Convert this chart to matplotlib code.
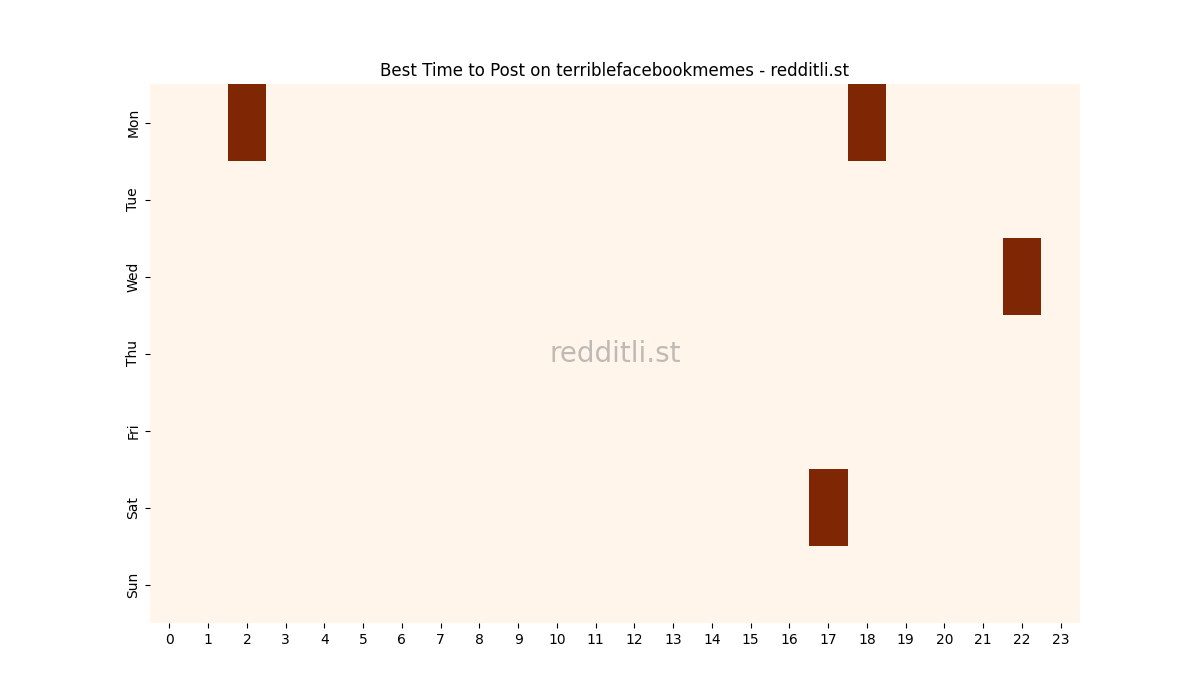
import numpy as np
import pandas as pd
import matplotlib
matplotlib.use("Agg")
import matplotlib.pyplot as plt
import seaborn as sns

days = ["Mon", "Tue", "Wed", "Thu", "Fri", "Sat", "Sun"]
hours = list(range(24))

# 最佳发帖时间 (day, hour)
best_slots = [("Mon", 2), ("Mon", 18), ("Wed", 22), ("Sat", 17)]

grid = np.zeros((len(days), len(hours)))
for d, h in best_slots:
    grid[days.index(d), h] = 1
df = pd.DataFrame(grid, index=days, columns=hours)

fig, ax = plt.subplots(figsize=(12, 7), dpi=100)
sns.heatmap(df, cmap="Oranges", cbar=False, ax=ax)
ax.set_yticklabels(days, rotation=90, va="center")
ax.set_xticklabels(hours, rotation=0)
ax.set_title("Best Time to Post on terriblefacebookmemes - redditli.st")

ax.text(0.5, 0.5, "redditli.st", transform=ax.transAxes, ha="center", va="center",
        fontsize=20, color="gray", alpha=0.5)

plt.savefig("out.png")
